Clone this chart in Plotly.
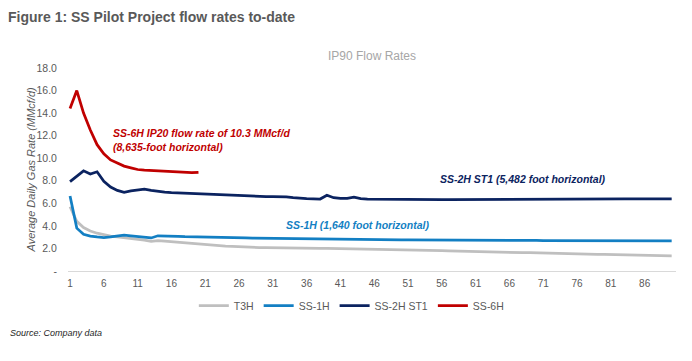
import plotly.graph_objects as go

days = list(range(1, 91))

t3h = [5.70, 4.40, 3.85, 3.55, 3.35, 3.20, 3.10, 3.02, 2.96, 2.88,
       2.80, 2.74, 2.62, 2.70, 2.65, 2.60, 2.55, 2.50, 2.43, 2.38,
       2.30, 2.25, 2.22, 2.20, 2.18, 2.14, 2.12, 2.10, 2.08, 2.07,
       2.07, 2.06, 2.06, 2.05, 2.04, 2.03, 2.02, 2.01, 2.00, 1.99,
       1.98, 1.97, 1.96, 1.96, 1.95, 1.94, 1.93, 1.93, 1.92, 1.91,
       1.90, 1.90, 1.89, 1.88, 1.85, 1.80, 1.78, 1.76, 1.75, 1.74,
       1.72, 1.71, 1.70, 1.68, 1.67, 1.66, 1.64, 1.63, 1.62, 1.60,
       1.59, 1.58, 1.56, 1.55, 1.54, 1.52, 1.51, 1.50, 1.48, 1.47,
       1.46, 1.44, 1.43, 1.42, 1.40, 1.39, 1.38, 1.36, 1.35, 1.34]

ss1h = [6.65, 3.80, 3.25, 3.10, 3.02, 2.97, 3.02, 3.10, 3.17, 3.12,
        3.05, 3.00, 2.93, 3.12, 3.12, 3.10, 3.07, 3.04, 3.02, 3.00,
        2.99, 2.98, 2.97, 2.96, 2.95, 2.94, 2.93, 2.92, 2.91, 2.90,
        2.89, 2.88, 2.87, 2.86, 2.85, 2.84, 2.84, 2.83, 2.83, 2.82,
        2.82, 2.81, 2.81, 2.80, 2.80, 2.79, 2.79, 2.78, 2.78, 2.77,
        2.77, 2.77, 2.76, 2.76, 2.75, 2.75, 2.75, 2.74, 2.74, 2.74,
        2.73, 2.73, 2.73, 2.72, 2.72, 2.72, 2.71, 2.71, 2.71, 2.71,
        2.70, 2.70, 2.70, 2.70, 2.70, 2.69, 2.69, 2.69, 2.69, 2.69,
        2.69, 2.68, 2.68, 2.68, 2.68, 2.68, 2.68, 2.68, 2.68, 2.68]

ss2h = [7.92, 8.40, 8.88, 8.60, 8.80, 7.95, 7.45, 7.15, 6.98, 7.10,
        7.20, 7.25, 7.15, 7.05, 7.00, 6.96, 6.93, 6.90, 6.86, 6.83,
        6.80, 6.77, 6.74, 6.71, 6.68, 6.66, 6.64, 6.62, 6.60, 6.59,
        6.59, 6.58, 6.58, 6.50, 6.44, 6.42, 6.40, 6.38, 6.72, 6.50,
        6.45, 6.44, 6.55, 6.42, 6.38, 6.37, 6.36, 6.36, 6.35, 6.35,
        6.34, 6.34, 6.33, 6.33, 6.33, 6.33, 6.33, 6.33, 6.34, 6.34,
        6.34, 6.35, 6.35, 6.35, 6.36, 6.36, 6.36, 6.36, 6.37, 6.37,
        6.37, 6.37, 6.38, 6.38, 6.38, 6.38, 6.38, 6.39, 6.39, 6.39,
        6.39, 6.39, 6.39, 6.40, 6.40, 6.40, 6.40, 6.40, 6.40, 6.40]

ss6h = [14.40, 16.00, 14.00, 12.50, 11.20, 10.40, 9.85, 9.55, 9.30, 9.15,
        9.00, 8.95, 8.92, 8.90, 8.85, 8.80, 8.75, 8.72, 8.72, 8.75]

series = [("T3H", t3h, "#bfbfbf"), ("SS-1H", ss1h, "#137fc3"),
          ("SS-2H ST1", ss2h, "#0b2360"), ("SS-6H", ss6h, "#c00000")]

x_ticks = list(range(1, 90, 5))
y_ticks = [0, 2, 4, 6, 8, 10, 12, 14, 16, 18]
y_tick_text = ["-"] + [f"{v:.1f}" for v in y_ticks[1:]]

FONT = "Liberation Sans, Arial, sans-serif"

fig = go.Figure()
for name, vals, color in series:
    fig.add_trace(go.Scatter(x=days[:len(vals)], y=vals, mode="lines", name=name,
                             line=dict(color=color, width=2.75)))

# the page body adds an 8px offset; the figure is sized to fit the 692x361 window
W, H = 684, 353
fig.update_layout(
    width=W, height=H,
    margin=dict(l=60, r=16, t=60, b=90, autoexpand=False),
    paper_bgcolor="white", plot_bgcolor="white",
    font=dict(family=FONT, color="#595959", size=10),
    title=dict(text="<b>Figure 1: SS Pilot Project flow rates to-date</b>",
               x=0, xanchor="left", xref="container",
               y=1 - 9.5/H, yanchor="middle", yref="container",
               pad=dict(l=0, r=0, t=0, b=0),
               font=dict(size=14, color="#595959", family=FONT)),
    showlegend=True,
    legend=dict(orientation="h", x=0.466, xanchor="center", y=-0.17, yanchor="middle",
                font=dict(size=10.5, color="#595959"), bgcolor="rgba(0,0,0,0)"),
    xaxis=dict(range=[0.70, 90.64], tickmode="array", tickvals=x_ticks,
               ticktext=[str(v) for v in x_ticks], showgrid=False, zeroline=False,
               showline=False, ticks="outside", ticklen=3, tickcolor="rgba(0,0,0,0)",
               automargin=False, tickfont=dict(size=10, color="#595959")),
    yaxis=dict(range=[0, 18], tickmode="array", tickvals=y_ticks, ticktext=y_tick_text,
               showgrid=False, zeroline=True, zerolinecolor="#d9d9d9", zerolinewidth=1,
               showline=False, ticks="outside", ticklen=8, tickcolor="rgba(0,0,0,0)",
               automargin=False, tickfont=dict(size=10.5, color="#595959")),
)

fig.add_annotation(text="IP90 Flow Rates", xref="paper", yref="paper", x=0.5, y=1.103,
                   showarrow=False, font=dict(size=12, color="#a6a6a6"))
fig.add_annotation(text="<i>Average Daily Gas Rate (MMcf/d)</i>", xref="paper", yref="paper",
                   x=-0.0625, y=0.5, xanchor="center", yanchor="middle", textangle=-90,
                   showarrow=False, font=dict(size=11, color="#595959"))
fig.add_annotation(text="<i>Source: Company data</i>", xref="paper", yref="paper",
                   x=-0.0987, y=-0.305, xanchor="left", yanchor="middle", showarrow=False,
                   font=dict(size=9, color="#262626"))
fig.add_annotation(text="<b><i>SS-6H IP20 flow rate of 10.3 MMcf/d<br>(8,635-foot horizontal)</i></b>",
                   x=7.1, y=11.65, xanchor="left", yanchor="middle", align="left",
                   showarrow=False, font=dict(size=10.5, color="#c00000"))
fig.add_annotation(text="<b><i>SS-2H ST1 (5,482 foot horizontal)</i></b>",
                   x=55.5, y=8.13, xanchor="left", yanchor="middle", showarrow=False,
                   font=dict(size=10.5, color="#0b2360"))
fig.add_annotation(text="<b><i>SS-1H (1,640 foot horizontal)</i></b>",
                   x=32.6, y=4.08, xanchor="left", yanchor="middle", showarrow=False,
                   font=dict(size=10.5, color="#137fc3"))

fig.write_html("out.html")
